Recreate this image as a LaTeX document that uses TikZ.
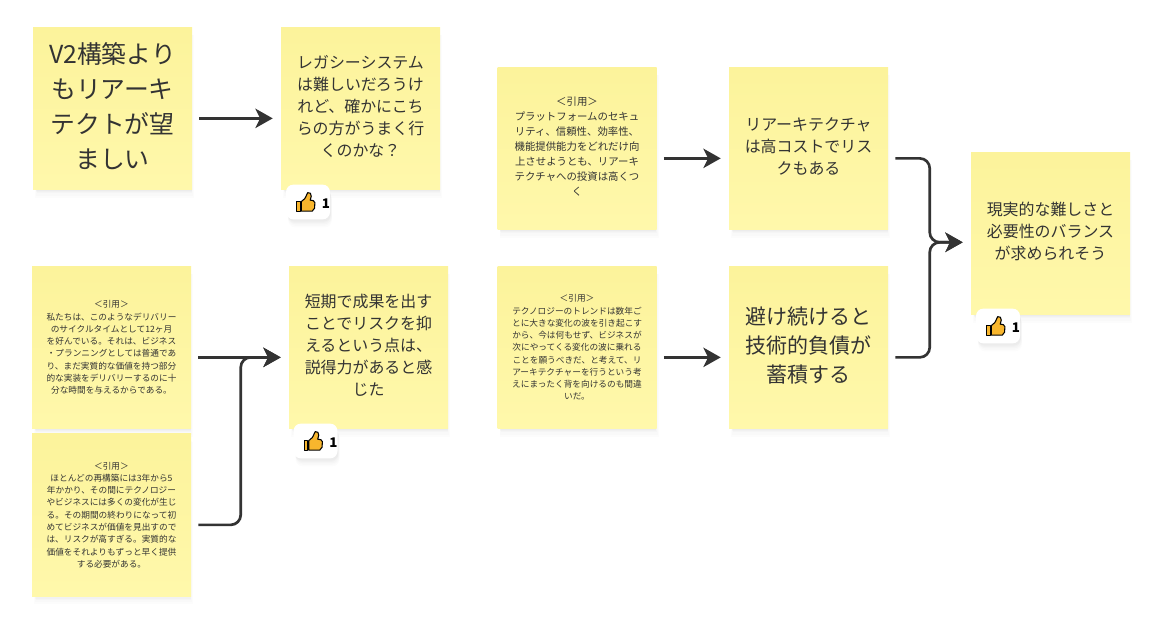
\documentclass[tikz,border=0pt]{standalone}
\usepackage{fontspec}
\setmainfont{Noto Sans CJK JP}
\usetikzlibrary{arrows.meta,shadows}
\definecolor{notetop}{HTML}{FCF39B}
\definecolor{notebot}{HTML}{FFF8AB}
\definecolor{ink}{HTML}{333333}
\definecolor{conn}{HTML}{333333}
\definecolor{thumbfill}{HTML}{F8B62D}
\tikzset{
  softshadow/.style={
    general shadow={fill=black,opacity=.012,shadow xshift=1.5pt,shadow yshift=-6pt,shadow scale=1.00},
    general shadow={fill=black,opacity=.012,shadow xshift=1.5pt,shadow yshift=-5pt,shadow scale=.99},
    general shadow={fill=black,opacity=.014,shadow xshift=1.5pt,shadow yshift=-4pt,shadow scale=.98},
    general shadow={fill=black,opacity=.016,shadow xshift=1pt,shadow yshift=-3pt,shadow scale=.98},
    general shadow={fill=black,opacity=.018,shadow xshift=1pt,shadow yshift=-2pt,shadow scale=.98}},
  note/.style={softshadow,rectangle,inner sep=0pt,top color=notetop,bottom color=notebot,
    minimum width=119.25pt,minimum height=122pt,align=center,text=ink},
  big/.style={note,text depth=5pt,font=\fontsize{18.6pt}{26.25pt}\selectfont},
  mid/.style={note,text depth=4pt,font=\fontsize{11.95pt}{16.5pt}\selectfont},
  large/.style={note,text depth=3.5pt,font=\fontsize{15.75pt}{21.75pt}\selectfont},
  quote/.style={note,text depth=3pt,font=\fontsize{7.8pt}{11.25pt}\selectfont},
  tiny/.style={note,font=\fontsize{6.5pt}{9.2pt}\selectfont},
  flow/.style={draw=conn,line width=2pt,rounded corners=7.5pt,
    -{Stealth[length=13pt,width=14.5pt,inset=3.5pt]},shorten <=5.25pt,shorten >=6pt},
  badge/.style={softshadow,rectangle,rounded corners=5.5pt,fill=white,inner sep=0pt,
    minimum width=33pt,minimum height=26pt},
  count/.style={font=\fontsize{10pt}{11pt}\selectfont\bfseries,text=black,inner sep=0pt},
  thumb/.pic={
    \filldraw[fill=thumbfill,draw=black,line width=.8pt,line join=round]
      (0,9) -- (3.5,9) -- (3.5,18.5) -- (0,18.5) -- cycle;
    \filldraw[fill=thumbfill,draw=black,line width=.8pt,line join=round]
      (4.5,9) -- (8,6) .. controls (10,3) and (10,1) .. (11,0)
      .. controls (13,-.5) and (15,1) .. (14.5,3.5) -- (13.5,7.5) -- (16.5,8)
      .. controls (18.5,8.5) and (18.5,11) .. (18,12.5)
      .. controls (18.5,14) and (18,17) .. (15.5,18.5) -- (4.5,18.5) -- cycle;
  }
}
\begin{document}
\begin{tikzpicture}[x=.75pt,y=-.75pt]
\useasboundingbox (0,0) rectangle (1168,641);
\fill[white] (0,0) rectangle (1168,641);

\node[big]  (A) at (112.5,108.5) {V2構築より\\もリアーキ\\テクトが望\\ましい};
\node[mid]  (B) at (360.5,108.5) {レガシーシステム\\は難しいだろうけ\\れど、確かにこち\\らの方がうまく行\\くのかな？};
\node[quote](C) at (577,148.5) {＜引用＞\\プラットフォームのセキュ\\リティ、信頼性、効率性、\\機能提供能力をどれだけ向\\上させようとも、リアーキ\\テクチャへの投資は高くつ\\く};
\node[mid]  (D) at (808.5,148.5) {リアーキテクチャ\\は高コストでリス\\クもある};
\node[mid]  (E) at (1050.5,233.5) {現実的な難しさと\\必要性のバランス\\が求められそう};
\node[tiny] (F) at (111.5,347.5) {＜引用＞\\私たちは、このようなデリバリー\\のサイクルタイムとして12ヶ月\\を好んでいる。それは、ビジネス\\・プランニングとしては普通であ\\り、まだ実質的な価値を持つ部分\\的な実装をデリバリーするのに十\\分な時間を与えるからである。};
\node[tiny] (G) at (111.5,515) {＜引用＞\\ほとんどの再構築には3年から5\\年かかり、その間にテクノロジー\\やビジネスには多くの変化が生じ\\る。その期間の終わりになって初\\めてビジネスが価値を見出すので\\は、リスクが高すぎる。実質的な\\価値をそれよりもずっと早く提供\\する必要がある。};
\node[mid]  (H) at (368.5,347.5) {短期で成果を出す\\ことでリスクを抑\\えるという点は、\\説得力があると感\\じた};
\node[tiny] (I) at (577,347.5) {＜引用＞\\テクノロジーのトレンドは数年ご\\とに大きな変化の波を引き起こす\\から、今は何もせず、ビジネスが\\次にやってくる変化の波に乗れる\\ことを願うべきだ、と考えて、リ\\アーキテクチャーを行うという考\\えにまったく背を向けるのも間違\\いだ。};
\node[large](J) at (808.5,347.5) {避け続けると\\技術的負債が\\蓄積する};

% connector ports sit a little below the note centres
\foreach \n in {A,B,C,D,F,G,H,I,J}{
  \coordinate (\n-out) at ([yshift=-7.4pt]\n.east);
  \coordinate (\n-in) at ([yshift=-7.4pt]\n.west);
}
\coordinate (E-in) at ([yshift=-6.6pt]E.west);
\coordinate (bus-H) at ([xshift=-36pt]H-in);
\coordinate (bus-E) at ([xshift=-30.75pt]E-in);

\draw[flow] (A-out) -- (B-in);
\draw[flow] (C-out) -- (D-in);
\draw[flow] (I-out) -- (J-in);
\draw[flow] (F-out) -- (H-in);
\draw[flow] (G-out) -| (bus-H) -- (H-in);
\draw[flow] (D-out) -| (bus-E) -- (E-in);
\draw[flow] (J-out) -| (bus-E) -- (E-in);

% reaction badges
\node[badge] (bB) at (308,202) {};
\pic at ([xshift=8.25pt,yshift=7pt]bB.west) {thumb};
\node[count] (cB) at (326,204) {1};
\node[badge] (bH) at (315.5,441) {};
\pic at ([xshift=8.25pt,yshift=7pt]bH.west) {thumb};
\node[count] (cH) at (333.5,443) {1};
\node[badge] (bE) at (998,326) {};
\pic at ([xshift=8.25pt,yshift=7pt]bE.west) {thumb};
\node[count] (cE) at (1016,328) {1};
\end{tikzpicture}
\end{document}
